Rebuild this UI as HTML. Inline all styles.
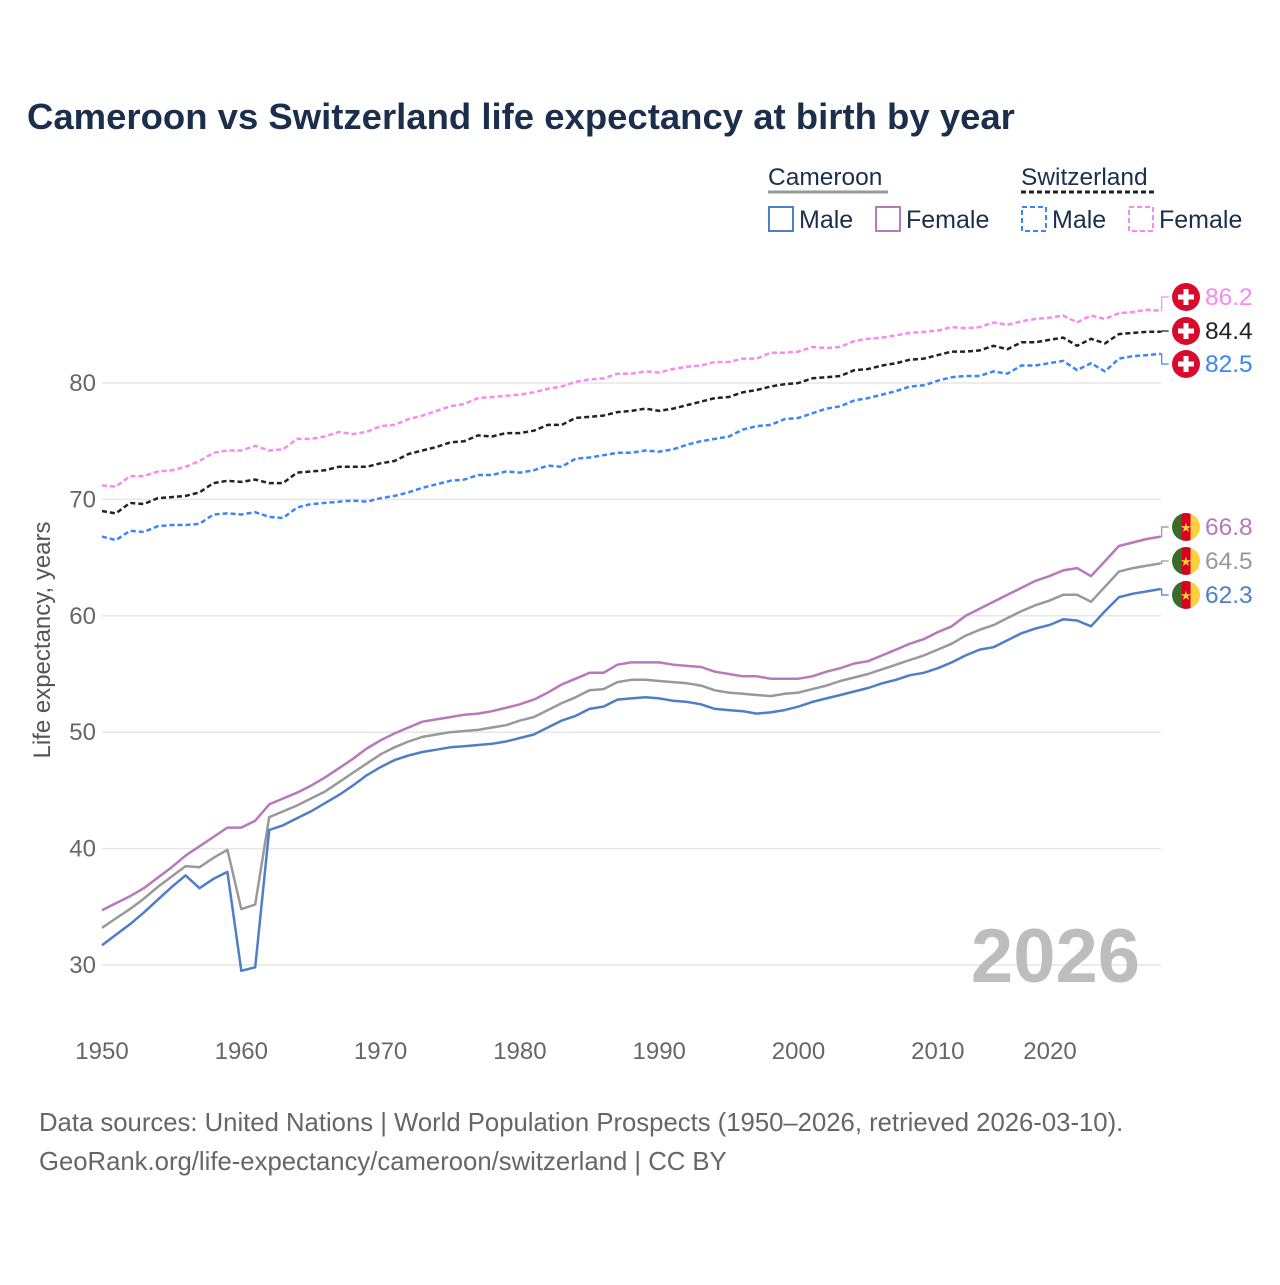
<!DOCTYPE html>
<html><head><meta charset="utf-8">
<style>
html,body{margin:0;padding:0;background:#fff;}
body{width:1280px;height:1280px;overflow:hidden;font-family:"Liberation Sans",sans-serif;}
svg text{font-family:"Liberation Sans",sans-serif;}
</style></head>
<body>
<svg id="chart" width="1280" height="1280" viewBox="0 0 1280 1280" xmlns="http://www.w3.org/2000/svg">
<text x="27" y="129" font-size="36.5" font-weight="bold" fill="#1b2f4d">Cameroon vs Switzerland life expectancy at birth by year</text>
<g id="legend">
  <text x="768" y="185" font-size="24.5" fill="#1b2f4d">Cameroon</text>
  <line x1="768" y1="192" x2="888" y2="192" stroke="#999" stroke-width="3"/>
  <text x="1021" y="185" font-size="24.5" fill="#1b2f4d">Switzerland</text>
  <line x1="1021" y1="192" x2="1156" y2="192" stroke="#222" stroke-width="3" stroke-dasharray="5,3"/>
  <g><rect x="769" y="207" width="24" height="24" fill="none" stroke="#4f7ec9" stroke-width="2"/><text x="799" y="228" font-size="25" fill="#1b2f4d">Male</text></g>
  <g><rect x="876" y="207" width="24" height="24" fill="none" stroke="#b779b9" stroke-width="2"/><text x="906" y="228" font-size="25" fill="#1b2f4d">Female</text></g>
  <g><rect x="1022" y="207" width="24" height="24" fill="none" stroke="#3b86f7" stroke-width="2" stroke-dasharray="5,3"/><text x="1052" y="228" font-size="25" fill="#1b2f4d">Male</text></g>
  <g><rect x="1129" y="207" width="24" height="24" fill="none" stroke="#f889f3" stroke-width="2" stroke-dasharray="5,3"/><text x="1159" y="228" font-size="25" fill="#1b2f4d">Female</text></g>
</g>
<g id="grid"></g>
<text x="1140" y="982" font-size="76" font-weight="bold" fill="#bdbdbd" text-anchor="end">2026</text>
<text transform="translate(50,640) rotate(-90)" font-size="24" fill="#555" text-anchor="middle">Life expectancy, years</text>
<g id="series"></g>
<g id="labels"></g>
<text x="39" y="1131" font-size="25.7" fill="#666">Data sources: United Nations | World Population Prospects (1950–2026, retrieved 2026-03-10).</text>
<text x="39" y="1170" font-size="25.7" fill="#666">GeoRank.org/life-expectancy/cameroon/switzerland | CC BY</text>
</svg>
<script>
const startYear = 1950;
const xTicks = [1950,1960,1970,1980,1990,2000,2010,2020];
const yTicks = [30,40,50,60,70,80];
const cmrMale = [31.7,32.6,33.5,34.5,35.6,36.7,37.7,36.6,37.4,38.0,29.5,29.8,41.6,42.0,42.6,43.2,43.9,44.6,45.4,46.3,47.0,47.6,48.0,48.3,48.5,48.7,48.8,48.9,49.0,49.2,49.5,49.8,50.4,51.0,51.4,52.0,52.2,52.8,52.9,53.0,52.9,52.7,52.6,52.4,52.0,51.9,51.8,51.6,51.7,51.9,52.2,52.6,52.9,53.2,53.5,53.8,54.2,54.5,54.9,55.1,55.5,56.0,56.6,57.1,57.3,57.9,58.5,58.9,59.2,59.7,59.6,59.1,60.4,61.6,61.9,62.1,62.3];
const cmrTotal = [33.2,34.0,34.8,35.7,36.7,37.6,38.5,38.4,39.2,39.9,34.8,35.2,42.7,43.2,43.7,44.3,44.9,45.7,46.5,47.3,48.1,48.7,49.2,49.6,49.8,50.0,50.1,50.2,50.4,50.6,51.0,51.3,51.9,52.5,53.0,53.6,53.7,54.3,54.5,54.5,54.4,54.3,54.2,54.0,53.6,53.4,53.3,53.2,53.1,53.3,53.4,53.7,54.0,54.4,54.7,55.0,55.4,55.8,56.2,56.6,57.1,57.6,58.3,58.8,59.2,59.8,60.4,60.9,61.3,61.8,61.8,61.2,62.5,63.8,64.1,64.3,64.5];
const cmrFemale = [34.7,35.3,35.9,36.6,37.5,38.4,39.4,40.2,41.0,41.8,41.8,42.4,43.8,44.3,44.8,45.4,46.1,46.9,47.7,48.6,49.3,49.9,50.4,50.9,51.1,51.3,51.5,51.6,51.8,52.1,52.4,52.8,53.4,54.1,54.6,55.1,55.1,55.8,56.0,56.0,56.0,55.8,55.7,55.6,55.2,55.0,54.8,54.8,54.6,54.6,54.6,54.8,55.2,55.5,55.9,56.1,56.6,57.1,57.6,58.0,58.6,59.1,60.0,60.6,61.2,61.8,62.4,63.0,63.4,63.9,64.1,63.4,64.7,66.0,66.3,66.6,66.8];
const cheMale = [66.8,66.5,67.3,67.2,67.7,67.8,67.8,67.9,68.7,68.8,68.7,68.9,68.5,68.4,69.3,69.6,69.7,69.8,69.9,69.8,70.1,70.3,70.6,71.0,71.3,71.6,71.7,72.1,72.1,72.4,72.3,72.5,72.9,72.8,73.5,73.6,73.8,74.0,74.0,74.2,74.1,74.3,74.7,75.0,75.2,75.4,76.0,76.3,76.4,76.9,77.0,77.4,77.8,78.0,78.5,78.7,79.0,79.3,79.7,79.8,80.2,80.5,80.6,80.6,81.0,80.8,81.5,81.5,81.7,81.9,81.1,81.7,81.0,82.1,82.3,82.4,82.5];
const cheTotal = [69.0,68.8,69.7,69.6,70.1,70.2,70.3,70.6,71.4,71.6,71.5,71.7,71.4,71.4,72.3,72.4,72.5,72.8,72.8,72.8,73.1,73.3,73.9,74.2,74.5,74.9,75.0,75.5,75.4,75.7,75.7,75.9,76.4,76.4,77.0,77.1,77.2,77.5,77.6,77.8,77.6,77.8,78.1,78.4,78.7,78.8,79.2,79.4,79.7,79.9,80.0,80.4,80.5,80.6,81.1,81.2,81.5,81.7,82.0,82.1,82.4,82.7,82.7,82.8,83.2,82.9,83.5,83.5,83.7,83.9,83.2,83.8,83.4,84.2,84.3,84.4,84.4];
const cheFemale = [71.2,71.1,72.0,72.0,72.4,72.5,72.8,73.3,74.0,74.2,74.2,74.6,74.2,74.3,75.2,75.2,75.4,75.8,75.6,75.8,76.3,76.4,76.9,77.2,77.6,78.0,78.2,78.7,78.8,78.9,79.0,79.2,79.5,79.7,80.1,80.3,80.4,80.8,80.8,81.0,80.9,81.2,81.4,81.5,81.8,81.8,82.1,82.1,82.6,82.6,82.7,83.1,83.0,83.1,83.6,83.8,83.9,84.1,84.3,84.4,84.5,84.8,84.7,84.8,85.2,85.0,85.3,85.5,85.6,85.8,85.2,85.8,85.5,86.0,86.1,86.3,86.2];

const X0=102, XPY=13.93, Y80=383, YPU=11.64;
function xs(yr){return X0+(yr-1950)*XPY;}
function ys(v){return Y80+(80-v)*YPU;}
const NS="http://www.w3.org/2000/svg";
function mk(tag,attrs,parent){const e=document.createElementNS(NS,tag);for(const k in attrs)e.setAttribute(k,attrs[k]);parent.appendChild(e);return e;}

const grid=document.getElementById('grid');
yTicks.forEach(v=>{
  const l=mk('line',{x1:102,x2:1161,y1:ys(v),y2:ys(v),stroke:'#e6e6e6','stroke-width':1.5},grid);
  
  
  const t=mk('text',{x:96,y:ys(v)+8,'font-size':24,fill:'#666','text-anchor':'end'},grid);
  t.textContent=v;
  
  
});
xTicks.forEach(yr=>{
  const cx=Math.min(xs(yr),1050);
  const t=mk('text',{x:cx,y:1059,'font-size':24,fill:'#666','text-anchor':'middle'},grid);
  t.textContent=yr;
  
  
});

const seriesG=document.getElementById('series');
const labelsG=document.getElementById('labels');
const defs=[
 {d:cheFemale,c:'#f889f3',dash:'5,3',name:'switzerland-female',ly:297,flag:'ch',tc:'#f889f3'},
 {d:cheTotal,c:'#222',dash:'5,3',name:'switzerland-total',ly:331,flag:'ch',tc:'#222'},
 {d:cheMale,c:'#3b86f7',dash:'5,3',name:'switzerland-male',ly:364,flag:'ch',tc:'#3b86f7'},
 {d:cmrFemale,c:'#b779b9',dash:'',name:'cameroon-female',ly:527,flag:'cm',tc:'#b779b9'},
 {d:cmrTotal,c:'#999',dash:'',name:'cameroon-total',ly:561,flag:'cm',tc:'#999'},
 {d:cmrMale,c:'#4f7ec9',dash:'',name:'cameroon-male',ly:595,flag:'cm',tc:'#4f7ec9'}
];
defs.forEach(s=>{
  const pts=s.d.map((v,i)=>xs(startYear+i).toFixed(1)+','+ys(v).toFixed(1)).join(' ');
  const a={points:pts,fill:'none',stroke:s.c,'stroke-width':2.5,'stroke-linejoin':'round'};
  if(s.dash)a['stroke-dasharray']=s.dash;
  const pl=mk('polyline',a,seriesG);
  
  
  const last=s.d[s.d.length-1];
  const lx=xs(startYear+s.d.length-1), lyv=ys(last);
  const con=mk('polyline',{points:`${lx},${lyv} ${lx+1},${lyv} ${lx+1},${s.ly} ${lx+8},${s.ly}`,fill:'none',stroke:s.c,'stroke-width':1.2},labelsG);
  
  
  const g=mk('g',{},labelsG);
  
  
  const fx=1186, fy=s.ly;
  if(s.flag==='ch'){
    mk('circle',{cx:fx,cy:fy,r:14,fill:'#da0a2c'},g);
    mk('rect',{x:fx-8,y:fy-2.5,width:16,height:5,fill:'#fff'},g);
    mk('rect',{x:fx-2.5,y:fy-8,width:5,height:16,fill:'#fff'},g);
  } else {
    const clip=mk('clipPath',{id:'cp'+s.name},g);
    mk('circle',{cx:fx,cy:fy,r:14},clip);
    const cg=mk('g',{'clip-path':`url(#cp${s.name})`},g);
    mk('rect',{x:fx-14,y:fy-14,width:9.4,height:28,fill:'#3a6b2a'},cg);
    mk('rect',{x:fx-4.7,y:fy-14,width:9.4,height:28,fill:'#d9001f'},cg);
    mk('rect',{x:fx+4.7,y:fy-14,width:9.4,height:28,fill:'#fcd03a'},cg);
    const st=mk('text',{x:fx,y:fy+5,'font-size':13,fill:'#fcd03a','text-anchor':'middle'},cg);
    st.textContent='★';
  }
  const t=mk('text',{x:1205,y:s.ly+8,'font-size':24.5,fill:s.tc},labelsG);
  t.textContent=last.toFixed(1);
  
  
});
</script>
</body></html>
